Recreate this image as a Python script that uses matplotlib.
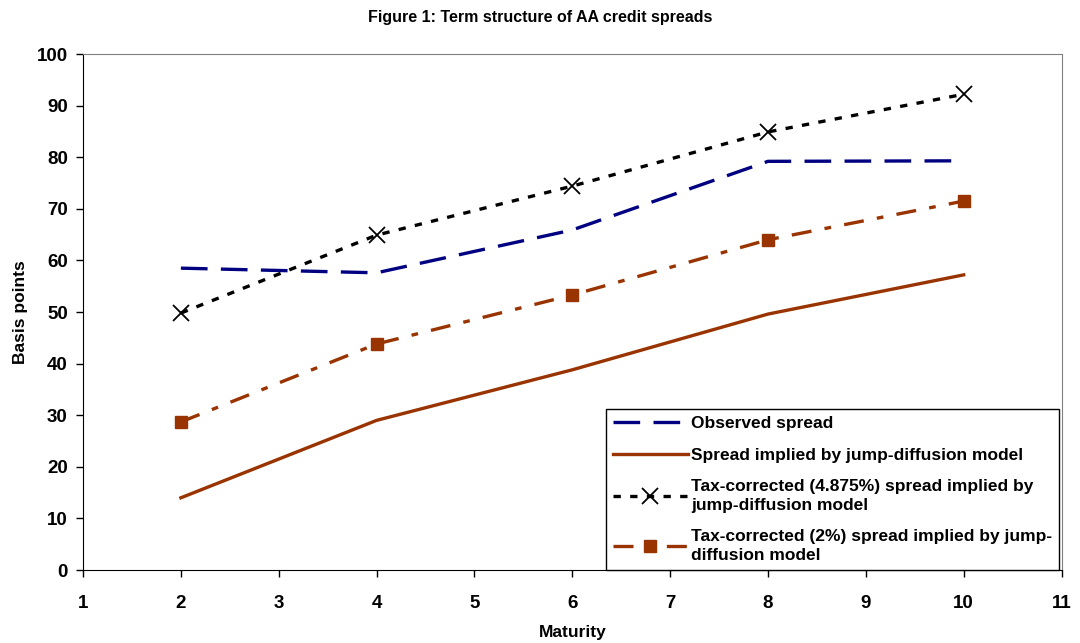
import matplotlib
matplotlib.use("Agg")
import matplotlib.pyplot as plt

maturity = [2, 4, 6, 8, 10]
observed = [58.5, 57.6, 65.9, 79.2, 79.3]
jump_diffusion = [14.0, 29.0, 38.8, 49.6, 57.2]
tax_4875 = [49.8, 64.9, 74.4, 84.9, 92.2]
tax_2 = [28.7, 43.8, 53.3, 64.0, 71.5]

plt.rcParams['font.family'] = ['Liberation Sans', 'DejaVu Sans']
plt.rcParams['font.weight'] = 'bold'

fig = plt.figure(figsize=(10.8, 6.43), dpi=100)
ax = fig.add_axes([0.0769, 0.1135, 0.906, 0.8025])

navy = '#000080'
rust = '#993300'

ax.plot(maturity, observed, color=navy, lw=2.4, dashes=(8, 4), label='Observed spread')
ax.plot(maturity, jump_diffusion, color=rust, lw=2.4, label='Spread implied by jump-diffusion model')
ax.plot(maturity, tax_4875, color='black', lw=2.4, dashes=(2.2, 2.8), marker='x', ms=11,
        mew=1.3, label='Tax-corrected (4.875%) spread implied by\njump-diffusion model')
ax.plot(maturity, tax_2, color=rust, lw=2.4, dashes=(6, 4, 2, 4), marker='s', ms=8,
        label='Tax-corrected (2%) spread implied by jump-\ndiffusion model')

ax.set_xlim(1, 11)
ax.set_ylim(0, 100)
ax.set_xticks(range(1, 12))
ax.set_yticks(range(0, 101, 10))
ax.tick_params(axis='both', labelsize=13.5, direction='out', length=5, width=1)
ax.tick_params(axis='x', pad=13)
ax.tick_params(axis='y', pad=6)
for s in ['top', 'right']:
    ax.spines[s].set_color('#808080')
for s in ['left', 'bottom']:
    ax.spines[s].set_color('black')

ax.set_xlabel('Maturity', fontsize=12.5, fontweight='bold', labelpad=9)
ax.set_ylabel('Basis points', fontsize=12.5, fontweight='bold', labelpad=6)
fig.suptitle('Figure 1: Term structure of AA credit spreads', fontsize=11.5, fontweight='bold', y=0.985)

leg = ax.legend(loc='lower right', bbox_to_anchor=(0.9975, 0.0), fontsize=12.5,
                frameon=True, fancybox=False, edgecolor='black', framealpha=1,
                handlelength=4.3, handletextpad=0.2, labelspacing=0.95,
                borderaxespad=0, borderpad=0.4)
for t in leg.get_texts():
    t.set_linespacing(1.3)
leg.get_frame().set_linewidth(1.0)

fig.savefig('out.png', dpi=100)
